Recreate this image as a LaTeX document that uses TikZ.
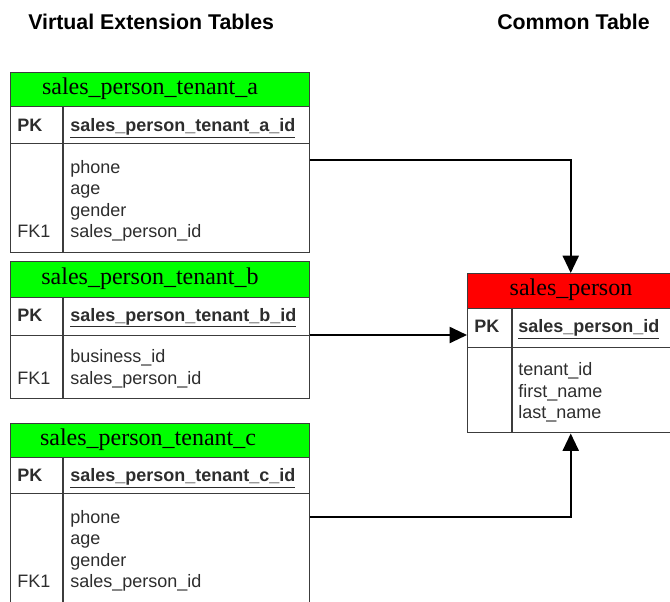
\documentclass[tikz,border=0pt]{standalone}
\usepackage{fontspec}
\setmainfont{Liberation Serif}
\setsansfont{Liberation Sans}
\usetikzlibrary{arrows.meta}

\definecolor{titlegreen}{RGB}{0,255,0}
\definecolor{titlered}{RGB}{255,0,0}
\definecolor{edgegray}{RGB}{60,60,60}
\definecolor{textgray}{RGB}{45,45,45}

\begin{document}
\begin{tikzpicture}[x=0.75pt, y=-0.75pt,
    box/.style={draw=edgegray, line width=1.1pt, anchor=north west, inner sep=0pt},
    size/.style 2 args={minimum width=#1*0.75pt, minimum height=#2*0.75pt},
    divider/.style={draw=edgegray, line width=1.1pt},
    tabletitle/.style={inner sep=0pt, font=\fontsize{18}{20}\selectfont, text=black},
    keyfield/.style={anchor=base west, inner sep=0pt, font=\sffamily\bfseries\fontsize{13.5}{16}\selectfont, text=textgray},
    field/.style={anchor=base west, inner sep=0pt, font=\sffamily\fontsize{13.5}{16}\selectfont, text=textgray},
    heading/.style={anchor=base west, inner sep=0pt, font=\sffamily\bfseries\fontsize{16}{19}\selectfont},
    fk/.style={line width=1.5pt, -{Triangle[length=13pt, width=12pt]}}]
   \useasboundingbox (0,0) rectangle (670,601);
   \clip (0,0) rectangle (670,601);

   % headings
   \node[heading] (virtual) at (28,29) {Virtual Extension Tables};
   \node[heading] (common) at (497,29) {Common Table};

   % sales_person_tenant_a
   \node[box, fill=titlegreen, size={299}{34}] (aTitle) at (10,72) {};
   \node[box, size={299}{37}] (aKey) at (10,106) {};
   \node[box, size={299}{109}] (aBody) at (10,143) {};
   \draw[divider] (63,106) -- (63,252);
   \node[tabletitle] (aName) at (150,89) {sales\_person\_tenant\_a};
   \node[keyfield] (aPK) at (17,131.5) {PK};
   \node[keyfield] (aId) at (70,131.5) {\underline{sales\_person\_tenant\_a\_id}};
   \node[field] (aPhone) at (70,173) {phone};
   \node[field] (aAge) at (70,194.5) {age};
   \node[field] (aGender) at (70,216) {gender};
   \node[field] (aFK) at (17,237.5) {FK1};
   \node[field] (aRef) at (70,237.5) {sales\_person\_id};

   % sales_person_tenant_b
   \node[box, fill=titlegreen, size={299}{36}] (bTitle) at (10,261) {};
   \node[box, size={299}{38}] (bKey) at (10,297) {};
   \node[box, size={299}{63}] (bBody) at (10,335) {};
   \draw[divider] (63,297) -- (63,398);
   \node[tabletitle] (bName) at (150,279) {sales\_person\_tenant\_b};
   \node[keyfield] (bPK) at (17,321) {PK};
   \node[keyfield] (bId) at (70,321) {\underline{sales\_person\_tenant\_b\_id}};
   \node[field] (bBusiness) at (70,362.5) {business\_id};
   \node[field] (bFK) at (17,384.5) {FK1};
   \node[field] (bRef) at (70,384.5) {sales\_person\_id};

   % sales_person_tenant_c
   \node[box, fill=titlegreen, size={299}{34}] (cTitle) at (10,423) {};
   \node[box, size={299}{36}] (cKey) at (10,457) {};
   \node[box, size={299}{112}] (cBody) at (10,493) {};
   \draw[divider] (63,457) -- (63,605);
   \node[tabletitle] (cName) at (148,440) {sales\_person\_tenant\_c};
   \node[keyfield] (cPK) at (17,481.5) {PK};
   \node[keyfield] (cId) at (70,481.5) {\underline{sales\_person\_tenant\_c\_id}};
   \node[field] (cPhone) at (70,523) {phone};
   \node[field] (cAge) at (70,544.5) {age};
   \node[field] (cGender) at (70,566) {gender};
   \node[field] (cFK) at (17,587.5) {FK1};
   \node[field] (cRef) at (70,587.5) {sales\_person\_id};

   % sales_person
   \node[box, fill=titlered, size={206}{35}] (spTitle) at (467,273) {};
   \node[box, size={206}{39}] (spKey) at (467,308) {};
   \node[box, size={206}{85}] (spBody) at (467,347) {};
   \draw[divider] (512,308) -- (512,432);
   \node[tabletitle] (spName) at (571,290) {sales\_person};
   \node[keyfield] (spPK) at (474,332.5) {PK};
   \node[keyfield] (spId) at (518,332.5) {\underline{sales\_person\_id}};
   \node[field] (spTenant) at (518,375.5) {tenant\_id};
   \node[field] (spFirst) at (518,397) {first\_name};
   \node[field] (spLast) at (518,418.5) {last\_name};

   % foreign keys
   \coordinate (aRow) at (0,160);
   \coordinate (cRow) at (0,517);
   \draw[fk] (aBody.east |- aRow) -| (spTitle.north);
   \draw[fk] (bBody.north east) -- (spKey.west |- bBody.north east);
   \draw[fk] (cBody.east |- cRow) -| (spBody.south);
\end{tikzpicture}
\end{document}
